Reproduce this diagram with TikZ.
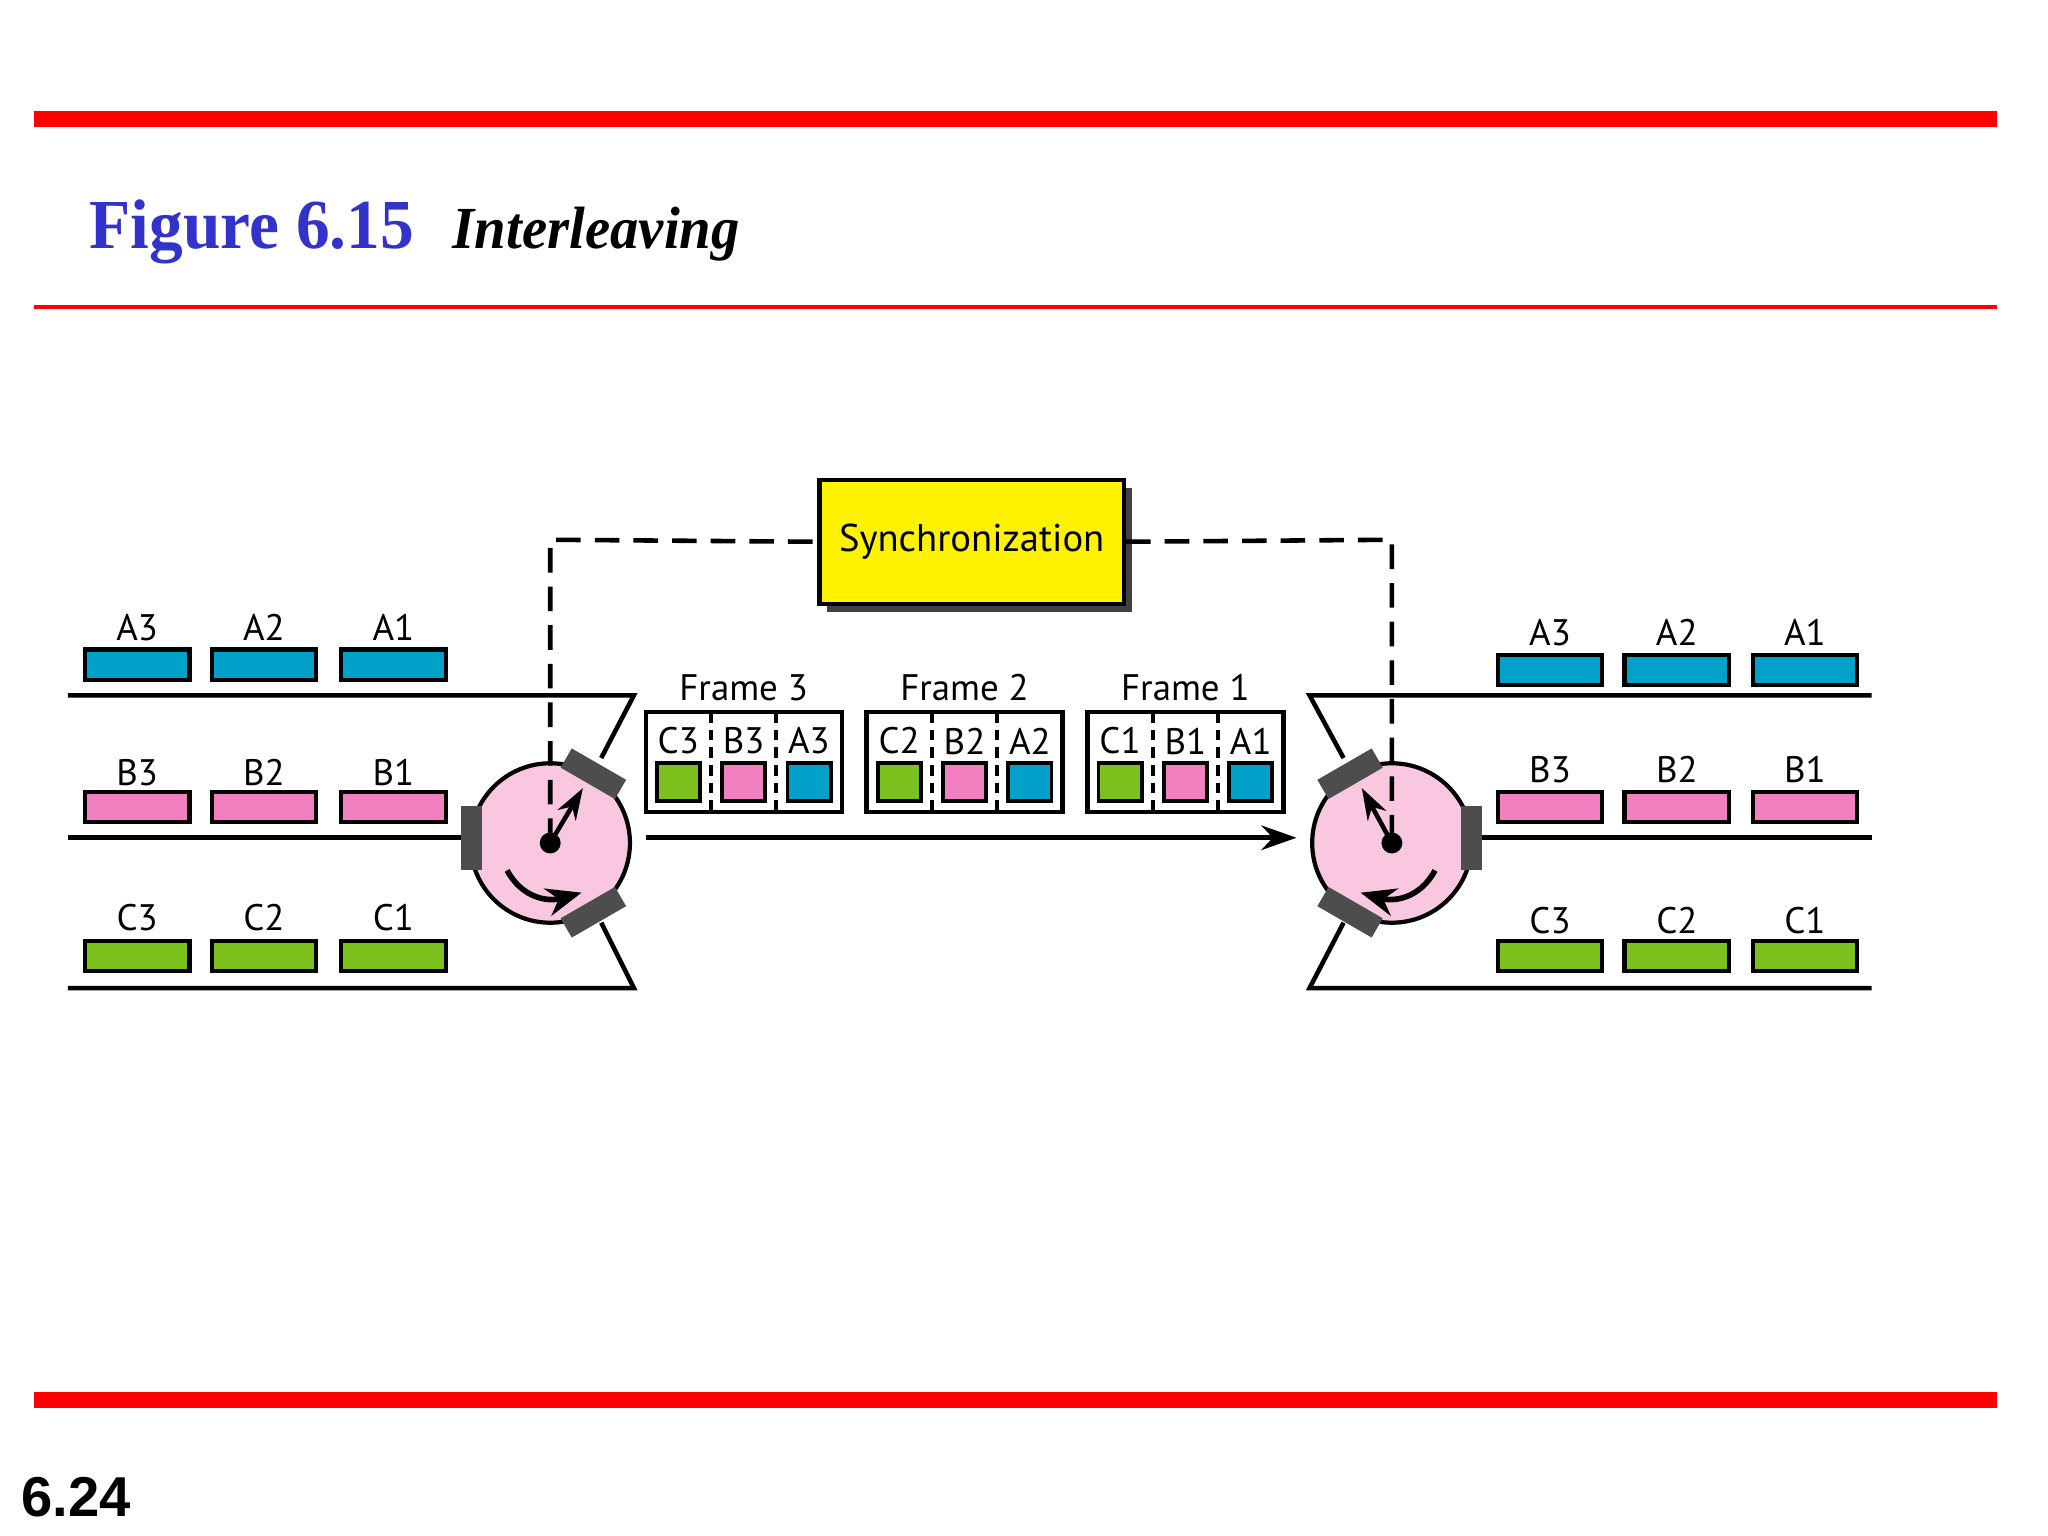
\documentclass[tikz,border=0pt]{standalone}
\usepackage{fontspec}
\setmainfont{Liberation Serif}
\newfontfamily\lab{PT Sans}
\newfontfamily\hv{Liberation Sans}
\usetikzlibrary{arrows.meta}
\definecolor{cA}{RGB}{0,160,200}
\definecolor{cB}{RGB}{242,128,192}
\definecolor{cC}{RGB}{124,192,30}
\definecolor{circ}{RGB}{249,200,224}
\definecolor{pad}{RGB}{77,77,77}
\definecolor{tblue}{RGB}{51,51,204}
\tikzset{
 bar/.style={draw=black,line width=1.2pt},
 lbl/.style={font=\lab\fontsize{10.5}{11}\selectfont,inner sep=0pt},
 ln/.style={line width=1.3pt},
 padd/.style={fill=pad,draw=none,minimum width=48*0.01307cm,minimum height=17*0.01307cm,inner sep=0pt},
 sq/.style={draw=black,line width=1.1pt,minimum width=33*0.01307cm,minimum height=29*0.01307cm,inner sep=0pt},
}
\begin{document}
\begin{tikzpicture}[x=0.01307cm,y=-0.01307cm]
\useasboundingbox (0,0) rectangle (1567,1175);
% header
\fill[red] (26,85) rectangle (1528,97);
\fill[red] (26,233.5) rectangle (1528,236.5);
\fill[red] (26,1065) rectangle (1528,1077);
\node[anchor=base west,inner sep=0,text=tblue,font=\bfseries\fontsize{20}{20}\selectfont,xscale=0.96] (fig) at (68,190) {Figure 6.15};
\node[anchor=base west,inner sep=0,font=\bfseries\itshape\fontsize{17}{17}\selectfont,xscale=0.95] (ttl) at (346,190) {Interleaving};
\node[anchor=base west,inner sep=0,font=\hv\bfseries\fontsize{16}{16}\selectfont] (pg) at (16,1160) {6.24};
% sync
\fill[black!75] (633,373) rectangle (866,468);
\node[draw=black,line width=1.2pt,fill=yellow,minimum width=233*0.01307cm,minimum height=95*0.01307cm,inner sep=0,font=\lab\fontsize{11}{12}\selectfont] (sync) at (743.5,414.5) {Synchronization};
% circles
\node[circle,draw=black,line width=1.2pt,fill=circ,minimum size=122*0.01307cm,inner sep=0] (lc) at (421,645) {};
\node[circle,draw=black,line width=1.2pt,fill=circ,minimum size=122*0.01307cm,inner sep=0] (rc) at (1065,645) {};
\coordinate (lcu) at (421,413);
\coordinate (rcu) at (1065,413);
\draw[dashed,line width=1.3pt,dash pattern=on 7pt off 4pt] (lc.center) -- (lcu) -- (sync.west);
\draw[dashed,line width=1.3pt,dash pattern=on 7pt off 4pt] (sync.east) -- (rcu) -- (rc.center);
% left lines
\coordinate (l1) at (52,532); \coordinate (l1e) at (485,532); \coordinate (l1d) at (460,580);
\coordinate (l2) at (52,641); \coordinate (l2e) at (355,641);
\coordinate (l3) at (52,756); \coordinate (l3e) at (485,756); \coordinate (l3d) at (460,706);
\draw[ln] (l1) -- (l1e) -- (l1d);
\draw[ln] (l2) -- (l2e);
\draw[ln] (l3) -- (l3e) -- (l3d);
\coordinate (r1) at (1432,532); \coordinate (r1e) at (1002,532); \coordinate (r1d) at (1028,580);
\coordinate (r2) at (1432,641); \coordinate (r2e) at (1133,641);
\coordinate (r3) at (1432,756); \coordinate (r3e) at (1002,756); \coordinate (r3d) at (1028,706);
\draw[ln] (r1) -- (r1e) -- (r1d);
\draw[ln] (r2) -- (r2e);
\draw[ln] (r3) -- (r3e) -- (r3d);
% paddles
\fill[pad] (353,617) rectangle (369,666);
\node[padd,rotate=-30] (lp1) at (454,592) {};
\node[padd,rotate=30] (lp2) at (454,698) {};
\fill[pad] (1118,617) rectangle (1134,666);
\node[padd,rotate=30] (rp1) at (1033,592) {};
\node[padd,rotate=-30] (rp2) at (1033,698) {};
% pointers
\fill (lc.center) circle (8);
\fill (rc.center) circle (8);
\coordinate (lt) at (446,603); \coordinate (rt) at (1042,603);
\draw[line width=1.3pt,-{Stealth[length=9pt,width=6pt]}] (lc.center) -- (lt);
\draw[line width=1.3pt,-{Stealth[length=9pt,width=6pt]}] (rc.center) -- (rt);
\coordinate (la) at (388,666); \coordinate (lb) at (445,683);
\coordinate (ra) at (1098,666); \coordinate (rb) at (1041,683);
\draw[line width=1.6pt,-{Stealth[length=10pt,width=8pt]}] (la) .. controls (400,688) and (420,690) .. (lb);
\draw[line width=1.6pt,-{Stealth[length=10pt,width=8pt]}] (ra) .. controls (1086,688) and (1066,690) .. (rb);
% main arrow
\coordinate (ma) at (494,641); \coordinate (mb) at (992,641);
\draw[line width=1.3pt,-{Stealth[length=10pt,width=7pt]}] (ma) -- (mb);
% bars
\foreach \lx/\n in {65/3,162/2,261/1}{
 \draw[bar,fill=cA] (\lx,497) rectangle +(80,23);
 \node[lbl] (lA\n) at (\lx+40,480) {A\n};
 \draw[bar,fill=cB] (\lx,606) rectangle +(80,23);
 \node[lbl] (lB\n) at (\lx+40,591) {B\n};
 \draw[bar,fill=cC] (\lx,720) rectangle +(80,23);
 \node[lbl] (lC\n) at (\lx+40,702) {C\n};
}
\foreach \lx/\n in {1146/3,1243/2,1341/1}{
 \draw[bar,fill=cA] (\lx,501) rectangle +(80,23);
 \node[lbl] (rA\n) at (\lx+40,484) {A\n};
 \draw[bar,fill=cB] (\lx,606) rectangle +(80,23);
 \node[lbl] (rB\n) at (\lx+40,589) {B\n};
 \draw[bar,fill=cC] (\lx,720) rectangle +(80,23);
 \node[lbl] (rC\n) at (\lx+40,704) {C\n};
}
% frames
\foreach \fx/\n in {494/3,663/2,832/1}{
 \draw[line width=1.2pt] (\fx,545) rectangle +(150,76);
 \draw[line width=1.1pt,dash pattern=on 3pt off 2pt] (\fx+50,545) -- +(0,76);
 \draw[line width=1.1pt,dash pattern=on 3pt off 2pt] (\fx+100,545) -- +(0,76);
 \node[lbl] (fl\n) at (\fx+75,526) {Frame \n};
 \node[lbl] (fc\n) at (\fx+25,567) {C\n};
 \node[lbl] (fb\n) at (\fx+75,567) {B\n};
 \node[lbl] (fa\n) at (\fx+125,567) {A\n};
 \node[sq,fill=cC] (sc\n) at (\fx+25,598.5) {};
 \node[sq,fill=cB] (sb\n) at (\fx+75,598.5) {};
 \node[sq,fill=cA] (sa\n) at (\fx+125,598.5) {};
}
\end{tikzpicture}
\end{document}
